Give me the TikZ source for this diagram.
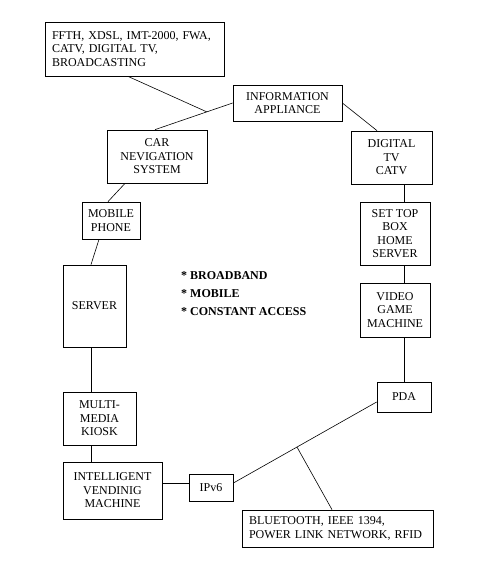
\documentclass[tikz,border=0pt]{standalone}
\usepackage{fontspec}
\setmainfont{Liberation Serif}
\begin{document}
\begin{tikzpicture}[x=1pt,y=-1pt,
  box/.style={draw, line width=0.75pt, inner sep=0pt, align=center,
    font=\fontsize{12}{13.5}\selectfont},
  conn/.style={line width=0.6pt}]
\useasboundingbox (0,0) rectangle (498,568);
\fill[white] (0,0) rectangle (498,568);
% boxes
\node[box, minimum width=179pt, minimum height=54pt, align=left, text width=165pt] (ffth) at (134.5,49)
  {FFTH, XDSL, IMT-2000, FWA,\\CATV, DIGITAL TV,\\BROADCASTING};
\node[box, minimum width=109pt, minimum height=36pt] (info) at (287.5,103) {INFORMATION\\APPLIANCE};
\node[box, minimum width=100pt, minimum height=53pt] (car) at (157,156.5) {CAR\\NEVIGATION\\SYSTEM};
\node[box, minimum width=81pt, minimum height=53pt] (dtv) at (391.5,157.5) {DIGITAL\\TV\\CATV};
\node[box, minimum width=58pt, minimum height=37pt] (mobile) at (111,220.5) {MOBILE\\PHONE};
\node[box, minimum width=63pt, minimum height=82pt] (server) at (94.5,306) {SERVER};
\node[box, minimum width=70pt, minimum height=63pt] (stb) at (395,233.5) {SET TOP\\BOX\\HOME\\SERVER};
\node[box, minimum width=70pt, minimum height=54pt] (video) at (395,310) {VIDEO\\GAME\\MACHINE};
\node[box, minimum width=54pt, minimum height=30pt] (pda) at (404,397) {PDA};
\node[box, minimum width=44pt, minimum height=27pt] (ipv6) at (211,487.5) {IPv6};
\node[box, minimum width=191pt, minimum height=37pt, align=left, text width=177pt] (bt) at (337.5,528.5)
  {BLUETOOTH, IEEE 1394,\\POWER LINK NETWORK, RFID};
\node[box, minimum width=73pt, minimum height=53pt] (kiosk) at (99.5,418.5) {MULTI-\\MEDIA\\KIOSK};
\node[box, minimum width=99pt, minimum height=57pt] (vend) at (112.5,490.5) {INTELLIGENT\\VENDINIG\\MACHINE};
\node[anchor=west, inner sep=0pt, align=left, font=\bfseries\fontsize{12}{17.7}\selectfont] (list) at (181,293.5)
  {* BROADBAND\\* MOBILE\\* CONSTANT ACCESS};
% connectors
\draw[conn] (info.west) -- ([xshift=-2pt]car.north) coordinate[pos=0.333] (j1);
\draw[conn] ([xshift=-6.5pt]ffth.south) -- (j1);
\draw[conn] (info.east) -- ([xshift=-14.5pt]dtv.north);
\draw[conn] (pda.north |- dtv.south) -- (pda.north |- stb.north);
\draw[conn] (pda.north |- stb.south) -- (pda.north |- video.north);
\draw[conn] (pda.north |- video.south) -- (pda.north);
\draw[conn] ([xshift=-32pt]car.south) -- ([xshift=-3pt]mobile.north);
\draw[conn] ([xshift=-12pt]mobile.south) -- ([xshift=-3.5pt]server.north);
\draw[conn] ([xshift=-3.5pt]server.south) -- ([xshift=-3.5pt]server.south |- kiosk.north);
\draw[conn] ([xshift=-3.5pt]server.south |- kiosk.south) -- ([xshift=-3.5pt]server.south |- vend.north);
\draw[conn] ([yshift=4.5pt]ipv6.west -| vend.east) -- ([yshift=4.5pt]ipv6.west);
\draw[conn] ([yshift=4.5pt]ipv6.east) -- ([yshift=-5pt]pda.west) coordinate[pos=0.444] (j2);
\draw[conn] (j2) -- ([xshift=-5.5pt]bt.north);
\end{tikzpicture}
\end{document}
